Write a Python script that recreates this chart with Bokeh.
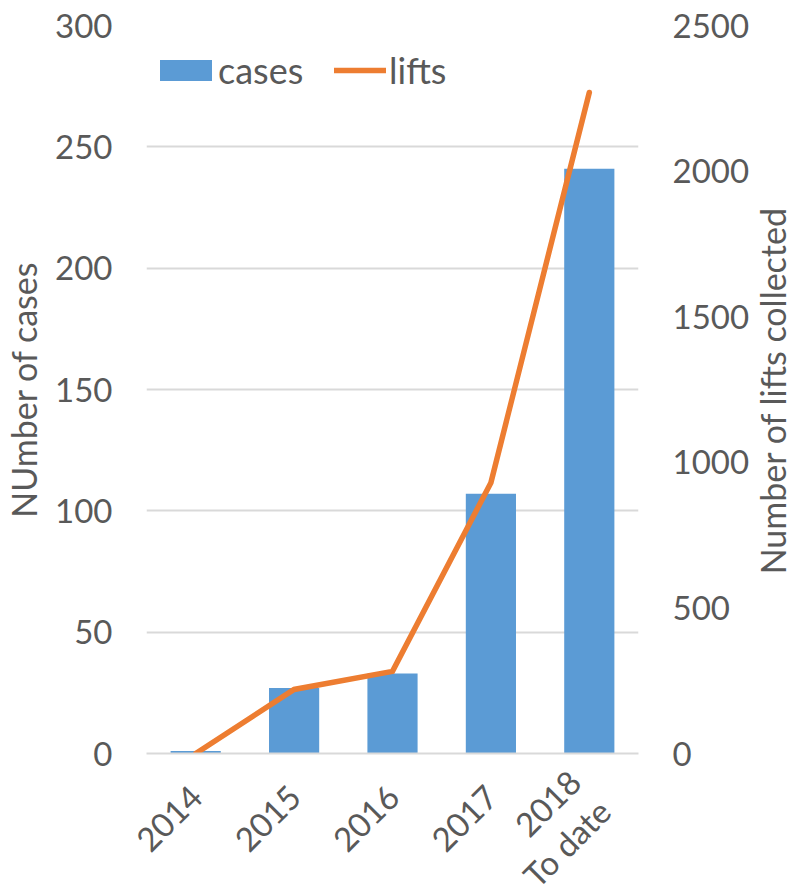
import math
from bokeh.plotting import figure
from bokeh.layouts import row
from bokeh.models import Range1d, LinearAxis, Legend, LegendItem, FixedTicker
from bokeh.core.properties import value
from bokeh.embed import file_html
from bokeh.resources import INLINE

years = ["2014", "2015", "2016", "2017", "2018\nTo date"]
cases = [1, 27, 33, 107, 241]
lifts = [0, 220, 282, 930, 2270]
right_title = "Number of lifts collected"

FONT = "Lato"
TXT = "#595959"
FS = "33px"
H = 880
FH = 728

p = figure(x_range=years, y_range=Range1d(0, 300), width=744, height=H,
           output_backend="svg", toolbar_location=None,
           frame_width=492, frame_height=FH,
           min_border_left=8, min_border_right=0, min_border_top=25, min_border_bottom=0)
p.extra_y_ranges = {"lifts": Range1d(0, 2500)}

bars = p.vbar(x=years, top=cases, width=0.51, color="#5B9BD5", line_color=None)
ln = p.line(x=years, y=lifts, y_range_name="lifts", color="#ED7D31", line_width=5.5,
            line_cap="round", line_join="miter")

right = LinearAxis(y_range_name="lifts", ticker=FixedTicker(ticks=[0, 500, 1000, 1500, 2000, 2500]))
p.add_layout(right, "right")

p.yaxis[0].ticker = FixedTicker(ticks=[0, 50, 100, 150, 200, 250, 300])
p.yaxis[0].axis_label = "NUmber of cases"

for ax in p.yaxis:
    ax.axis_line_color = None
    ax.major_tick_line_color = None
    ax.minor_tick_line_color = None
    ax.major_label_text_font = FONT
    ax.major_label_text_font_size = FS
    ax.major_label_text_color = TXT
    ax.axis_label_text_font = FONT
    ax.axis_label_text_font_size = "34px"
    ax.axis_label_text_color = TXT
    ax.axis_label_text_font_style = "normal"
    ax.major_label_standoff = 28
    ax.axis_label_standoff = 8

xa = p.xaxis[0]
xa.axis_line_color = "#D9D9D9"
xa.axis_line_width = 2
xa.major_tick_line_color = None
xa.minor_tick_line_color = None
xa.major_label_orientation = math.pi / 4
xa.major_label_text_font = FONT
xa.major_label_text_font_size = FS
xa.major_label_text_color = TXT
xa.major_label_text_line_height = 1.05
xa.major_label_standoff = 31

p.xgrid.grid_line_color = None
p.ygrid.grid_line_color = "#D9D9D9"
p.ygrid.grid_line_width = 2
p.outline_line_color = None

common = dict(orientation="horizontal", background_fill_alpha=0, border_line_color=None,
              label_text_font=FONT, label_text_font_size="36px", label_text_color=TXT,
              glyph_height=26, spacing=0, padding=0, margin=0)
leg1 = Legend(items=[LegendItem(label="cases", renderers=[bars])],
              location=(7, 661), glyph_width=65, label_standoff=-5, **common)
leg2 = Legend(items=[LegendItem(label="lifts", renderers=[ln])],
              location=(188, 661), glyph_width=52, label_standoff=3, **common)
p.add_layout(leg1, "center")
p.add_layout(leg2, "center")

# narrow side panel carrying the right axis title (reads bottom-to-top)
PW = 40
p2 = figure(width=PW, height=H, frame_width=PW, frame_height=FH,
            x_range=Range1d(0, PW), y_range=Range1d(0, FH),
            output_backend="svg", toolbar_location=None,
            x_axis_location=None, y_axis_location=None,
            min_border=0, min_border_left=0, min_border_right=0,
            min_border_top=0, min_border_bottom=0)
p2.xgrid.visible = False
p2.ygrid.visible = False
p2.outline_line_color = None
p2.text(x=[19.5], y=[FH - 365], text=[right_title], angle=math.pi / 2,
        text_align="center", text_baseline="middle",
        text_font=value(FONT), text_font_size="34px", text_color=TXT)

layout = row(p, p2, spacing=0)
open("out.html", "w").write(file_html(layout, INLINE))
